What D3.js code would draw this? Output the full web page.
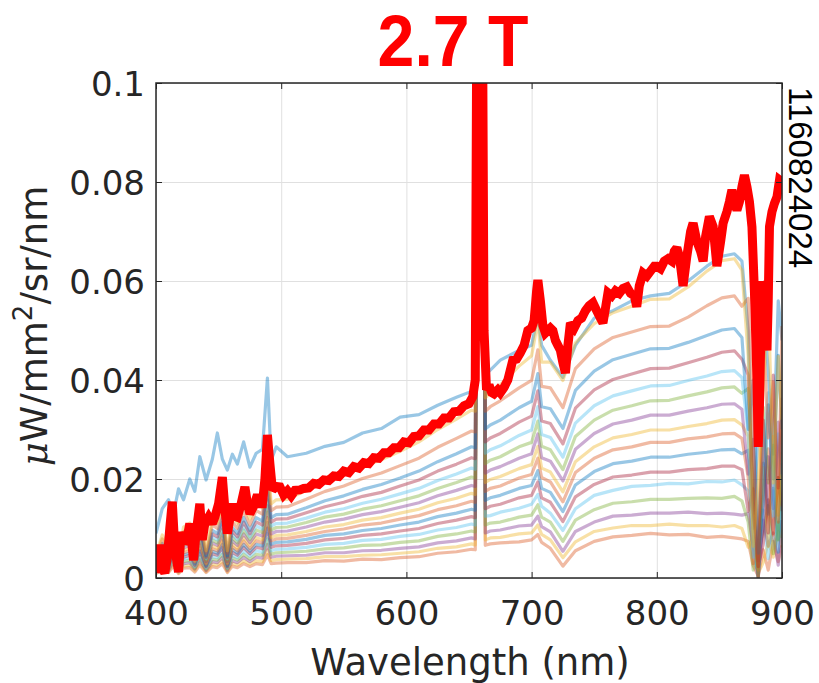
<!DOCTYPE html>
<html>
<head>
<meta charset="utf-8">
<script src="https://cdn.jsdelivr.net/npm/d3@7"></script>
<style>
  body { margin: 0; background: #fff; }
  svg { display: block; }
</style>
</head>
<body>
<svg id="chart" width="819" height="683"></svg>
<script>
  // values in units of 1e-4 uW/mm^2/sr/nm
  var unit = 1e-4

  var wavelengths = [400,405,410,414,418,422,427,431,435,440,445,449,453,457,461,465,470,475,480,485,489,492,496,
    505,520,535,550,565,580,595,610,625,640,652,655,
    657,661,663,667,675,690,700,705,708,715,725,735,750,765,780,795,810,825,840,852,862,868,
    873,877,881,885,889,893,897,900]

  // faint spectra, first one is the high blue one, the rest bottom to top
  var spectra = [
    [90,140,158,130,180,158,200,175,245,198,240,293,240,218,250,230,275,224,252,260,404,238,265,
     245,252,266,274,293,302,325,330,349,365,377,374,
     1200,1200,410,420,440,460,470,530,470,440,405,470,525,540,560,570,575,600,630,650,655,640,
     500,100,300,550,420,250,560,480],
    [9,17,11,24,9,20,21,12,26,11,23,21,29,11,24,21,29,23,29,27,47,29,30,
     31,31,35,34,38,37,41,43,50,53,58,57,
     1200,1200,66,69,71,73,77,88,72,60,24,55,74,83,86,90,87,88,82,84,81,79,
     74,25,4,57,16,74,33,66],
    [11,20,13,30,11,24,26,15,31,13,28,26,35,13,30,26,35,28,35,33,57,35,37,
     38,39,43,43,46,47,50,53,60,63,69,67,
     1200,1200,77,81,82,89,91,107,88,77,41,73,94,101,106,106,109,106,106,103,106,100,
     62,83,10,31,73,42,94,62],
    [13,24,15,35,13,29,31,18,37,15,33,31,42,15,35,31,42,33,42,40,68,42,44,
     45,46,51,51,55,56,60,63,71,75,81,79,
     1200,1200,91,95,97,105,107,125,104,93,54,94,113,125,127,131,131,133,130,131,129,127,
     130,65,0,117,65,91,26,117],
    [15,28,18,41,15,33,36,20,43,18,38,36,48,18,41,36,48,38,48,46,79,48,51,
     52,54,59,61,66,67,72,75,84,89,95,93,
     1200,1200,107,111,113,123,127,148,123,113,74,117,138,151,154,159,159,161,162,161,165,156,
     113,16,49,97,146,49,113,81],
    [17,32,20,46,17,38,41,23,49,20,44,41,55,20,46,41,55,44,55,52,90,55,58,
     59,62,68,70,76,78,84,88,97,102,109,107,
     1200,1200,125,126,133,141,149,169,145,131,96,140,167,177,185,187,191,190,195,194,198,188,
     176,59,10,137,39,176,78,156],
    [20,36,23,52,20,42,46,26,55,23,49,46,62,23,52,46,62,49,62,59,101,62,65,
     66,70,77,80,86,89,95,100,110,117,124,122,
     1200,1200,140,145,149,162,167,194,162,153,114,164,189,204,208,214,214,219,221,226,226,219,
     135,180,23,68,158,90,203,135],
    [22,40,25,58,22,47,50,29,61,25,54,50,68,25,58,50,68,54,68,65,112,68,72,
     73,78,86,89,96,100,107,113,124,131,139,137,
     1200,1200,157,162,167,181,187,217,181,173,134,188,215,231,236,244,244,250,254,259,260,251,
     258,129,0,232,129,181,52,232],
    [24,43,28,63,24,51,55,32,67,28,59,55,75,28,63,55,75,59,75,71,122,75,79,
     80,86,94,99,107,111,119,126,138,146,155,153,
     1200,1200,175,181,186,202,209,242,203,194,154,213,242,259,265,274,274,281,285,291,292,282,
     203,29,87,174,261,87,203,145],
    [26,47,30,69,26,56,60,34,73,30,65,60,82,30,69,60,82,65,82,77,133,82,86,
     87,94,103,108,117,122,131,139,152,161,171,169,
     1200,1200,193,199,205,221,229,266,222,214,174,235,265,283,290,299,299,306,312,319,320,309,
     286,95,16,223,64,286,127,254],
    [28,52,33,75,28,61,66,38,80,33,71,66,89,33,75,66,89,71,89,85,146,89,94,
     95,103,113,119,128,134,143,152,166,177,187,185,
     1200,1200,212,218,225,242,251,291,243,236,196,260,292,311,319,329,329,337,344,351,352,341,
     210,280,35,105,245,140,315,210],
    [31,56,36,82,31,66,71,41,87,36,77,71,97,36,82,71,97,77,97,92,158,97,102,
     103,112,123,129,139,146,156,166,181,193,204,202,
     1200,1200,231,238,245,265,274,317,266,259,219,286,319,339,348,358,359,368,376,384,386,373,
     383,192,0,345,192,268,77,345],
    [33,61,39,88,33,72,77,44,94,39,83,77,105,39,88,77,105,83,105,99,171,105,110,
     111,121,133,140,151,159,170,181,197,210,222,220,
     1200,1200,252,259,267,288,299,346,290,284,244,313,348,368,378,388,389,399,408,417,419,405,
     291,42,125,250,374,125,291,208],
    [36,65,42,95,36,77,83,48,101,42,89,83,113,42,95,83,113,89,113,107,184,113,119,
     120,132,144,153,165,173,186,198,216,230,243,241,
     1200,1200,275,283,292,315,327,378,317,312,271,343,380,401,412,423,424,435,446,456,459,442,
     410,137,23,319,91,410,182,364],
    [38,70,45,102,38,83,90,51,109,45,96,90,122,45,102,90,122,96,122,115,198,122,128,
     129,142,156,166,179,189,202,216,235,251,265,263,
     1200,1200,301,309,319,344,357,413,346,342,302,379,418,441,452,463,464,476,490,501,504,486,
     300,400,50,150,350,200,450,300],
    [43,79,50,114,43,93,100,57,122,50,107,100,136,50,114,100,136,107,136,129,222,136,143,
     144,159,175,186,201,212,227,242,264,282,297,295,
     1200,1200,337,346,358,384,399,461,387,384,344,423,463,486,497,508,509,527,550,566,570,549,
     565,283,0,509,283,396,113,509],
    [47,87,55,126,47,103,111,63,134,55,119,111,150,55,126,111,150,119,150,142,245,150,158,
     159,177,195,208,225,239,256,275,300,321,339,337,
     1200,1200,364,373,390,428,449,519,436,436,399,475,514,536,549,563,564,588,620,641,645,622,
     448,64,192,384,576,192,448,320]
  ]

  // the thick red spectrum
  var redWavelengths = [400,401,403,405,407,409,411,413,415,418,420,422,425,427,429,430,432,435,437,439,442,445,447,450,
    453,455,457,459,461,463,465,468,471,473,475,478,481,483,485,487,489,491,493,496,499,
    502,505,508,511,515,518,522,526,530,534,538,542,546,550,554,558,562,566,570,574,578,582,586,590,594,598,
    602,606,610,614,618,622,626,630,634,638,642,646,650,653,655,656.5,660.5,662,664,666,668,670,673,675,678,
    681,685,688,691,694,697,700,702,704,705,707,709,711,713,715,717,719,721,723,725,727,729,731,734,737,740,
    743,746,749,752,755,757,759,761,764,767,770,773,776,779,782,784,786,789,792,795,798,800,803,806,809,812,
    814,816,818,821,824,827,829,832,835,837,839,842,845,848,851,853,856,858,860,862,864,866,868,870,872,874,
    876,878,880,881,882,884,886,888,889,890,892,894,896,898,900]
  var redValues = [10,30,67,20,10,40,100,154,60,12,93,70,83,110,60,36,90,150,77,110,123,110,123,150,
    204,140,90,120,150,125,123,150,184,150,130,145,168,150,150,200,289,230,178,185,184,
    168,176,166,177,178,181,182,191,189,198,197,206,205,216,213,225,222,233,231,243,242,253,253,263,263,275,
    273,286,287,299,299,311,311,323,323,336,337,348,352,366,400,1300,1300,500,380,390,375,372,380,374,385,
    400,440,442,455,470,500,505,520,580,602,560,510,495,500,505,500,480,470,460,435,414,470,515,505,520,525,
    540,550,556,540,525,515,545,576,570,580,575,585,588,575,570,548,590,616,610,620,630,630,625,640,645,640,
    660,667,650,590,650,700,717,680,660,640,690,730,710,630,680,717,740,760,784,760,743,760,790,814,790,760,
    709,576,400,265,350,600,520,460,560,710,740,757,770,804,800]

  var xTicks = [400, 500, 600, 700, 800, 900]
  var yTicks = [0, 0.02, 0.04, 0.06, 0.08, 0.1]
  var yTickLabels = ['0', '0.02', '0.04', '0.06', '0.08', '0.1']
  var colors = ['#0072BD', '#D95319', '#EDB120', '#7E2F8E', '#77AC30', '#4DBEEE', '#A2142F']

  var plotLeft = 156, plotRight = 782, plotTop = 83, plotBottom = 578
  var axisColor = '#262626'

  var svg = d3.select('#chart')
  var x = d3.scaleLinear().domain([400, 900]).range([plotLeft, plotRight])
  var y = d3.scaleLinear().domain([0, 0.1]).range([plotBottom, plotTop])

  svg.append('defs').append('clipPath').attr('id', 'plot')
    .append('rect').attr('x', plotLeft).attr('y', plotTop)
    .attr('width', plotRight - plotLeft).attr('height', plotBottom - plotTop)

  // grid
  svg.append('g')
    .attr('transform', 'translate(0,' + plotBottom + ')')
    .call(d3.axisBottom(x).tickValues(xTicks).tickSize(-(plotBottom - plotTop)).tickFormat(''))
    .call(g => g.select('.domain').remove())
    .selectAll('line').attr('stroke', '#e0e0e0')
  svg.append('g')
    .attr('transform', 'translate(' + plotLeft + ',0)')
    .call(d3.axisLeft(y).tickValues(yTicks).tickSize(-(plotRight - plotLeft)).tickFormat(''))
    .call(g => g.select('.domain').remove())
    .selectAll('line').attr('stroke', '#e0e0e0')

  var line = d3.line()
    .x(d => x(d[0]))
    .y(d => y(d[1] * unit))

  var plot = svg.append('g').attr('clip-path', 'url(#plot)')

  plot.selectAll('path.spec')
    .data(spectra)
    .join('path')
    .attr('class', 'spec')
    .attr('d', s => line(d3.zip(wavelengths, s)))
    .attr('fill', 'none')
    .attr('stroke', (s, i) => colors[i % 7])
    .attr('stroke-opacity', 0.4)
    .attr('stroke-width', 3.2)
    .attr('stroke-linejoin', 'round')

  plot.append('path')
    .attr('d', line(d3.zip(redWavelengths, redValues)))
    .attr('fill', 'none')
    .attr('stroke', '#ff0000')
    .attr('stroke-width', 9)
    .attr('stroke-linejoin', 'miter')
    .attr('stroke-miterlimit', 2)

  // axes, ticks pointing inwards on all four sides
  function styleAxis(g) {
    g.select('.domain').remove()
    g.selectAll('line').attr('stroke', axisColor)
    g.selectAll('text')
      .attr('fill', axisColor)
      .style('font-family', 'DejaVu Sans')
      .style('font-size', '34px')
  }

  svg.append('g')
    .attr('transform', 'translate(0,' + plotBottom + ')')
    .call(d3.axisBottom(x).tickValues(xTicks).tickSize(-6).tickPadding(23))
    .call(styleAxis)
  svg.append('g')
    .attr('transform', 'translate(0,' + plotTop + ')')
    .call(d3.axisTop(x).tickValues(xTicks).tickSize(-6).tickFormat(''))
    .call(styleAxis)
  svg.append('g')
    .attr('transform', 'translate(' + plotLeft + ',0)')
    .call(d3.axisLeft(y).tickValues(yTicks).tickSize(-6).tickPadding(11)
      .tickFormat((d, i) => yTickLabels[i]))
    .call(styleAxis)
    .selectAll('text').attr('dy', '0.37em')
  svg.append('g')
    .attr('transform', 'translate(' + plotRight + ',0)')
    .call(d3.axisRight(y).tickValues(yTicks).tickSize(-6).tickFormat(''))
    .call(styleAxis)

  svg.append('rect')
    .attr('x', plotLeft).attr('y', plotTop)
    .attr('width', plotRight - plotLeft).attr('height', plotBottom - plotTop)
    .attr('fill', 'none')
    .attr('stroke', axisColor)
    .attr('stroke-width', 1.5)

  // labels
  svg.append('text')
    .attr('x', 470).attr('y', 675)
    .attr('text-anchor', 'middle')
    .attr('fill', axisColor)
    .style('font-family', 'DejaVu Sans')
    .style('font-size', '37px')
    .text('Wavelength (nm)')

  var ylab = svg.append('text')
    .attr('transform', 'translate(47,326) rotate(-90)')
    .attr('text-anchor', 'middle')
    .attr('fill', axisColor)
    .style('font-family', 'DejaVu Sans')
    .style('font-size', '37px')
  ylab.append('tspan').style('font-family', 'DejaVu Serif').style('font-style', 'italic').text('\u03bc')
  ylab.append('tspan').text('W/mm')
  ylab.append('tspan').attr('dy', -15).style('font-size', '26px').text('2')
  ylab.append('tspan').attr('dy', 15).text('/sr/nm')

  svg.append('text')
    .attr('transform', 'translate(789,87) rotate(90)')
    .attr('fill', '#000')
    .style('font-family', 'Liberation Sans')
    .style('font-size', '33px')
    .text('1160824024')

  svg.append('text')
    .attr('transform', 'translate(453,66) scale(0.92,1)')
    .attr('text-anchor', 'middle')
    .attr('fill', '#ff0000')
    .style('font-family', 'Liberation Sans')
    .style('font-weight', 'bold')
    .style('font-size', '72px')
    .text('2.7 T')
</script>
</body>
</html>
